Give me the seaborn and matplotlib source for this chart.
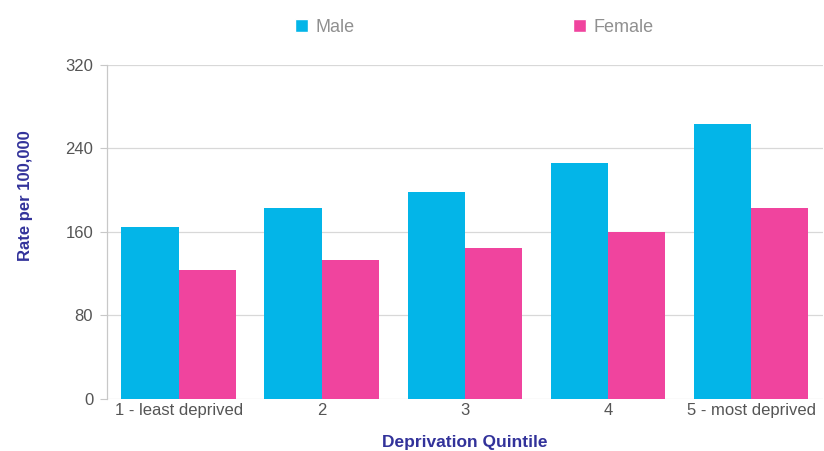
import pandas as pd
import seaborn as sns
import matplotlib.pyplot as plt
from matplotlib.patches import Patch

quintiles = ['1 - least deprived', '2', '3', '4', '5 - most deprived']
male = [165, 183, 198, 226, 263]
female = [124, 133, 145, 160, 183]
yticks = [0, 80, 160, 240, 320]

df = pd.DataFrame({
    'quintile': quintiles * 2,
    'sex': ['Male'] * 5 + ['Female'] * 5,
    'rate': male + female,
})

sns.set_style('white')
plt.rcParams['font.family'] = ['Liberation Sans', 'DejaVu Sans']

colors = {'Male': '#03b5e8', 'Female': '#f0449e'}

fig = plt.figure(figsize=(8.24, 4.51), dpi=100)
ax = fig.add_axes([0.1299, 0.1153, 0.8686, 0.7406])

sns.barplot(data=df, x='quintile', y='rate', hue='sex', palette=colors,
            width=0.8, gap=0, saturation=1, linewidth=0, legend=False, ax=ax)

ax.set_xlim(-0.5, 4.5)
ax.set_ylim(0, 320)
ax.set_yticks(yticks)
ax.yaxis.grid(True, color='#d8d8d8', linewidth=0.9)
ax.set_axisbelow(True)

for s in ['top', 'right', 'bottom']:
    ax.spines[s].set_visible(False)
ax.spines['left'].set_color('#c8c8c8')
ax.spines['left'].set_linewidth(0.9)

ax.tick_params(axis='y', length=5, color='#c8c8c8', labelsize=12,
               labelcolor='#555555', pad=5, left=True)
ax.tick_params(axis='x', length=0, labelsize=12, labelcolor='#555555', pad=3)

ax.set_xlabel('Deprivation Quintile', fontsize=12.5, fontweight='bold',
              color='#32329a')
ax.set_ylabel('Rate per 100,000', fontsize=12, fontweight='bold',
              color='#32329a')
ax.xaxis.set_label_coords(0.5, -0.108)
ax.yaxis.set_label_coords(-0.103, 0.608)

handles = [Patch(facecolor=colors['Male'], label='Male'),
           Patch(facecolor=colors['Female'], label='Female')]
leg = fig.legend(handles=handles, loc='center left', bbox_to_anchor=(286 / 824, 0.94),
                 ncol=2, frameon=False, fontsize=13, borderpad=0,
                 handlelength=0.72, handleheight=0.72, handletextpad=0.4,
                 columnspacing=12.1)
for t in leg.get_texts():
    t.set_color('#909090')

fig.savefig('out.png', dpi=100)
